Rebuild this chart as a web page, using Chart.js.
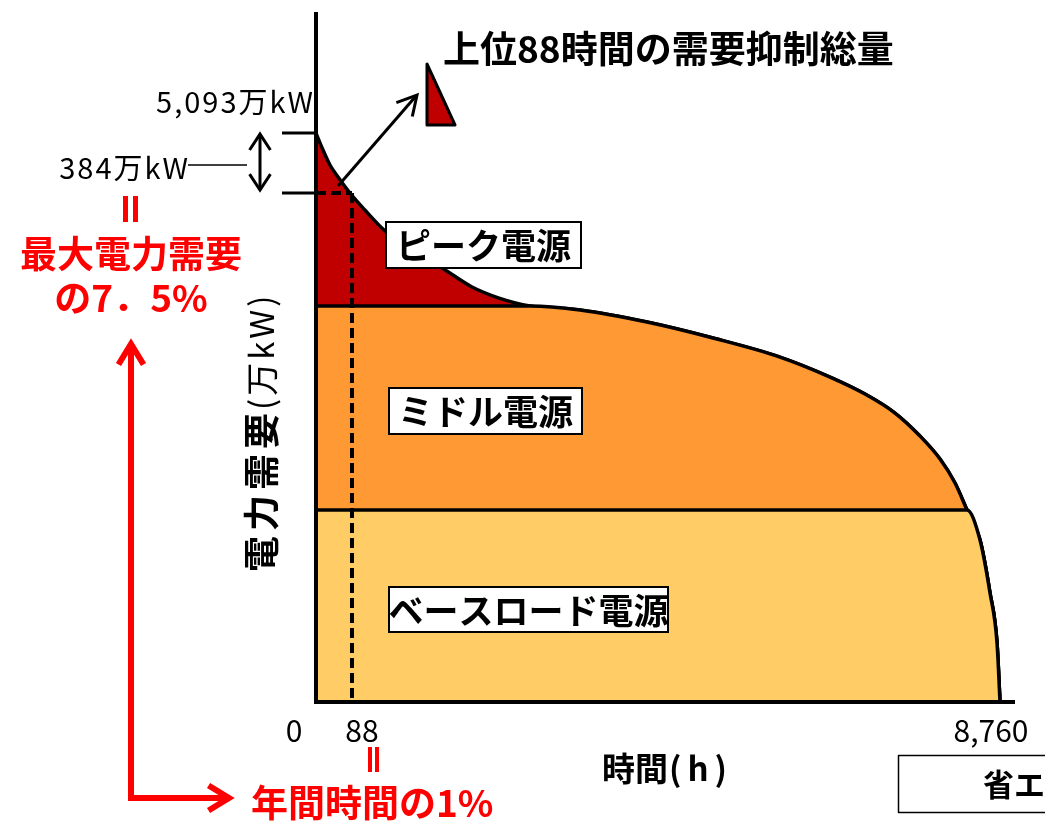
<!DOCTYPE html>
<html>
<head>
<meta charset="utf-8">
<script src="https://cdn.jsdelivr.net/npm/chart.js@4.4.0/dist/chart.umd.min.js"></script>
<style>
  html, body { margin: 0; padding: 0; background: #fff; }
  #wrap { width: 1045px; height: 827px; }
</style>
</head>
<body>
<div id="wrap"><canvas id="ldc" width="1045" height="827"></canvas></div>
<script>
// load duration curve (schematic)
const hours = [0, 90, 179, 282, 435, 627, 871, 1204, 1614, 1998, 2344, 2741,
  3381, 4239, 5084, 5942, 6583, 7031, 7415, 7735, 7992, 8184, 8337,
  8504, 8632, 8722, 8760];
const demand = [5093, 4941, 4807, 4699, 4556, 4404, 4225, 4046, 3885, 3715, 3616, 3545,
  3509, 3401, 3258, 3088, 2909, 2757, 2587, 2381, 2175, 1960, 1719,
  1450, 976, 528, 0];

// tops of the middle and base load bands
const middleTop = 3545;
const baseTop = 1719;

// peak cut marker (drawn position of the 88 h line and the 384万kW level)
const cutHour = 461;
const cutLevel = 4556;

const xTickValues = [0, cutHour, 8760];
const xTickLabels = ['0', '88', '8,760'];
const yMarkValues = [5093, cutLevel];
const yMarkLabels = ['5,093万kW', '384万kW'];

const bandNames = ['ピーク電源', 'ミドル電源', 'ベースロード電源'];
const bandColors = ['#C00000', '#FF9933', '#FFCC66'];

const toPoints = (cap) => hours.map((h, i) => ({ x: h, y: Math.min(demand[i], cap) }));

const F = '"Noto Sans CJK JP", "Noto Sans", sans-serif';

function line(ctx, x1, y1, x2, y2) {
  ctx.beginPath();
  ctx.moveTo(x1, y1);
  ctx.lineTo(x2, y2);
  ctx.stroke();
}

function head(ctx, tx, ty, fx, fy, len, spread) {
  const ang = Math.atan2(ty - fy, tx - fx);
  ctx.beginPath();
  ctx.moveTo(tx - len * Math.cos(ang - spread), ty - len * Math.sin(ang - spread));
  ctx.lineTo(tx, ty);
  ctx.lineTo(tx - len * Math.cos(ang + spread), ty - len * Math.sin(ang + spread));
  ctx.stroke();
}

function text(ctx, s, x, y, size, opts) {
  opts = opts || {};
  ctx.font = (opts.bold ? 'bold ' : '') + size + 'px ' + F;
  ctx.letterSpacing = (opts.spacing || 0) + 'px';
  ctx.fillStyle = opts.color || '#000';
  ctx.textAlign = opts.align || 'left';
  ctx.textBaseline = 'middle';
  ctx.fillText(s, x, y);
  const w = ctx.measureText(s).width;
  ctx.letterSpacing = '0px';
  return w;
}

function labelBox(ctx, s, x1, y1, x2, y2, size) {
  ctx.fillStyle = '#fff';
  ctx.fillRect(x1, y1, x2 - x1, y2 - y1);
  ctx.strokeStyle = '#000';
  ctx.lineWidth = 2;
  ctx.setLineDash([]);
  ctx.strokeRect(x1, y1, x2 - x1, y2 - y1);
  text(ctx, s, (x1 + x2) / 2, (y1 + y2) / 2 + 1, size, { bold: true, align: 'center' });
}

const annotations = {
  id: 'annotations',
  afterDatasetsDraw(chart) {
    const { ctx, chartArea: a, scales: { x, y } } = chart;
    ctx.save();
    ctx.lineCap = 'butt';

    // axes
    ctx.strokeStyle = '#000';
    ctx.lineWidth = 4;
    line(ctx, a.left, 12, a.left, a.bottom + 2);
    line(ctx, a.left - 2, a.bottom, a.right, a.bottom);

    // level markers on the y axis
    const yTop = y.getPixelForValue(yMarkValues[0]);
    const yCut = y.getPixelForValue(yMarkValues[1]);
    ctx.lineWidth = 3;
    line(ctx, 282, yTop, a.left, yTop);
    line(ctx, 282, yCut, a.left + 10, yCut);

    // dashed 88h guide
    const xCut = x.getPixelForValue(cutHour);
    ctx.lineWidth = 4;
    ctx.setLineDash([10, 5]);
    line(ctx, a.left, yCut, xCut, yCut);
    line(ctx, xCut, yCut, xCut, a.bottom);
    ctx.setLineDash([]);

    // double arrow between the two levels
    ctx.lineWidth = 3;
    line(ctx, 260, yTop + 1, 260, yCut - 3);
    head(ctx, 260, yTop + 1, 260, yCut, 19, 0.58);
    head(ctx, 260, yCut - 3, 260, yTop, 19, 0.58);

    text(ctx, yMarkLabels[0], 315, yTop - 31, 29, { align: 'right', spacing: 2 });
    text(ctx, yMarkLabels[1], 190, 168, 29, { align: 'right', spacing: 2 });
    ctx.lineWidth = 1.5;
    line(ctx, 188, 165, 247, 165);

    // red notes on the left
    ctx.fillStyle = '#FF0000';
    ctx.fillRect(123, 196, 5, 26);
    ctx.fillRect(133, 196, 5, 26);
    text(ctx, '最大電力需要', 131, 254, 37, { bold: true, color: '#FF0000', align: 'center' });
    text(ctx, 'の7．5%', 131, 298, 37, { bold: true, color: '#FF0000', align: 'center' });

    ctx.strokeStyle = '#FF0000';
    ctx.lineWidth = 6;
    ctx.lineJoin = 'miter';
    ctx.beginPath();
    ctx.moveTo(131, 345);
    ctx.lineTo(131, 798);
    ctx.lineTo(226, 798);
    ctx.stroke();
    head(ctx, 131, 344, 131, 500, 24, 0.55);
    head(ctx, 229, 798, 100, 798, 24, 0.55);

    // y axis title (rotated)
    ctx.save();
    ctx.translate(261, 572);
    ctx.rotate(-Math.PI / 2);
    const w1 = text(ctx, '電力需要', 0, 0, 36, { bold: true, spacing: 5 });
    text(ctx, '(万kW)', w1 - 2, 0, 33, { spacing: 3 });
    ctx.restore();

    // x ticks
    const tickOffsets = [-22, 10, -9];
    xTickValues.forEach((v, i) => {
      text(ctx, xTickLabels[i], x.getPixelForValue(v) + tickOffsets[i], 731, 30, { align: 'center' });
    });
    ctx.fillStyle = '#FF0000';
    ctx.fillRect(368, 747, 4, 25);
    ctx.fillRect(375, 747, 4, 25);
    text(ctx, '年間時間の1%', 251, 803, 37, { bold: true, color: '#FF0000' });
    text(ctx, '時間', 602, 768, 33, { bold: true });
    text(ctx, '(h)', 669, 768, 33, { bold: true, spacing: 6 });

    // band labels
    labelBox(ctx, bandNames[0], 386, 222, 581, 268, 35);
    labelBox(ctx, bandNames[1], 389, 388, 582, 434, 35);
    labelBox(ctx, bandNames[2], 389, 587, 668, 632, 35);

    // peak cut callout
    ctx.strokeStyle = '#000';
    ctx.lineWidth = 3;
    line(ctx, 338, 186, 416, 96);
    head(ctx, 417, 95, 338, 186, 22, 0.5);
    ctx.beginPath();
    ctx.moveTo(427, 64);
    ctx.lineTo(427, 125);
    ctx.lineTo(455, 125);
    ctx.closePath();
    ctx.fillStyle = bandColors[0];
    ctx.fill();
    ctx.lineJoin = 'round';
    ctx.stroke();
    text(ctx, '上位88時間の需要抑制総量', 443, 49, 37, { bold: true });

    // cut-off box at bottom right
    ctx.lineWidth = 1.5;
    ctx.strokeRect(898.5, 755.5, 160, 57);
    text(ctx, '省エネ', 983, 784, 31, { bold: true });

    ctx.restore();
  }
};

const commonLine = {
  borderColor: '#000',
  borderWidth: 3.5,
  pointRadius: 0,
  fill: 'origin',
  cubicInterpolationMode: 'monotone',
  borderJoinStyle: 'round'
};

new Chart(document.getElementById('ldc'), {
  type: 'line',
  data: {
    datasets: [
      Object.assign({ label: bandNames[2], data: toPoints(baseTop), backgroundColor: bandColors[2] }, commonLine),
      Object.assign({ label: bandNames[1], data: toPoints(middleTop), backgroundColor: bandColors[1] }, commonLine),
      Object.assign({ label: bandNames[0], data: toPoints(Infinity), backgroundColor: bandColors[0] }, commonLine)
    ]
  },
  options: {
    responsive: false,
    animation: false,
    devicePixelRatio: 1,
    layout: { padding: { left: 316, right: 30, top: 15, bottom: 125 } },
    plugins: {
      legend: { display: false },
      tooltip: { enabled: false }
    },
    scales: {
      x: { type: 'linear', min: 0, max: 8952, display: false },
      y: { type: 'linear', min: 0, max: 6150, display: false }
    }
  },
  plugins: [annotations]
});
</script>
</body>
</html>
